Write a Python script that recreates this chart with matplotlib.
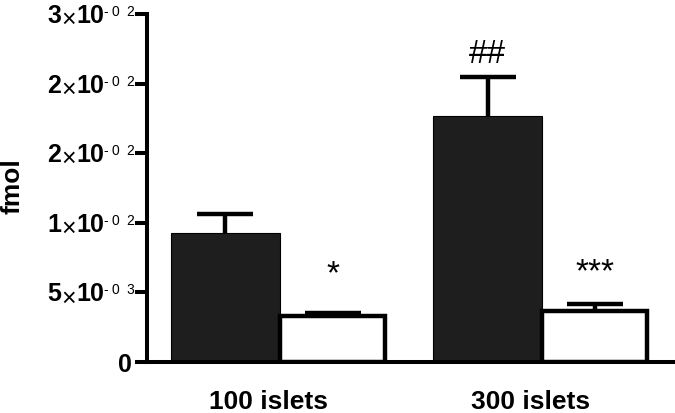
import matplotlib
matplotlib.use("Agg")
import matplotlib.pyplot as plt
import matplotlib.transforms as mtransforms
import numpy as np

# ---- data ----
groups = ["100 islets", "300 islets"]
black_vals = [0.00927, 0.01767]
black_err = [0.00133, 0.00277]
white_vals = [0.0033, 0.00366]
white_err = [0.00022, 0.00051]
black_marks = ["", "##"]
white_marks = ["*", "***"]
yticks = [0, 0.005, 0.010, 0.015, 0.020, 0.025]
# mantissa, exponent digits (as displayed in the reference)
tick_mant = ["0", "5", "1", "2", "2", "3"]
tick_exp = ["", "03", "02", "02", "02", "02"]

plt.rcParams['font.family'] = ['Liberation Sans', 'DejaVu Sans']

W, H = 675, 413
PT = 0.72  # points per pixel at dpi 100
fig = plt.figure(figsize=(W / 100, H / 100), dpi=100)
ax = fig.add_axes([147 / W, 51 / H, 528 / W, 348 / H])

gpos = np.array([0.0, 2.495])
lw = 3.2
black_color = '#1e1e1e'
bw_black = 1.04
bw_white = 1.0

xb = gpos - bw_black / 2
xw = gpos + bw_white / 2
ax.bar(gpos, black_vals, width=-bw_black, align='edge', color=black_color,
       edgecolor='black', linewidth=0.8, zorder=2)
ax.errorbar(xb, black_vals, yerr=black_err,
            fmt='none', ecolor='black', elinewidth=lw, capsize=20.5,
            capthick=lw, zorder=1)
ax.bar(gpos, white_vals, width=bw_white, align='edge', color='white',
       edgecolor='black', linewidth=lw, zorder=2)
ax.errorbar(xw, white_vals, yerr=white_err,
            fmt='none', ecolor='black', elinewidth=lw, capsize=20.5,
            capthick=lw, zorder=1)

# significance marks
b_off = [0, 10.5]
w_off = [21.5, 16.5]
for i in range(2):
    if black_marks[i]:
        ax.annotate(black_marks[i], (xb[i], black_vals[i] + black_err[i]),
                    xytext=(0, b_off[i]), textcoords='offset points',
                    ha='center', va='baseline', fontsize=24)
    if white_marks[i]:
        ax.annotate(white_marks[i], (xw[i], white_vals[i] + white_err[i]),
                    xytext=(0, w_off[i]), textcoords='offset points',
                    ha='center', va='baseline', fontsize=24)

ax.set_xlim(-1.267, 3.76)
ax.set_ylim(0, 0.025)

for s in ['top', 'right']:
    ax.spines[s].set_visible(False)
for s in ['left', 'bottom']:
    ax.spines[s].set_linewidth(2.9)

# y ticks with hand-built labels  (m x 10^-ee)
ax.set_yticks(yticks)
ax.set_yticklabels([])
ax.tick_params(axis='y', length=8.6, width=2.9)
ytr = ax.get_yaxis_transform()
for t, m, e in zip(yticks, tick_mant, tick_exp):
    def put(s, dx, dy, **kw):
        ax.annotate(s, (0, t), xycoords=ytr, xytext=(dx * PT, -dy * PT),
                    textcoords='offset points', ha='center', va='baseline',
                    annotation_clip=False, **kw)
    if not e:
        put(m, -22, 9.5, fontsize=18, fontweight='bold')
        continue
    put(m, -92.5, 9, fontsize=18, fontweight='bold')
    put('\u00d7', -78, 13, fontsize=18)
    put('10', -57, 9, fontsize=18, fontweight='bold')
    put('-', -41.5, 2, fontsize=10)
    put(e[0], -32, 2, fontsize=10)
    put(e[1], -17, 2, fontsize=10)

ax.set_xticks(gpos)
ax.set_xticklabels(groups, fontsize=19, fontweight='bold')
ax.tick_params(axis='x', length=0, pad=20)
offset = mtransforms.ScaledTranslation(-12 / 100, 0, fig.dpi_scale_trans)
for lab in ax.get_xticklabels():
    lab.set_transform(lab.get_transform() + offset)

ylab = fig.text(13 / W, (H - 186) / H, 'fmol', rotation=90, fontsize=19,
                fontweight='bold', ha='center', va='center')

fig.savefig('out.png', dpi=100)
